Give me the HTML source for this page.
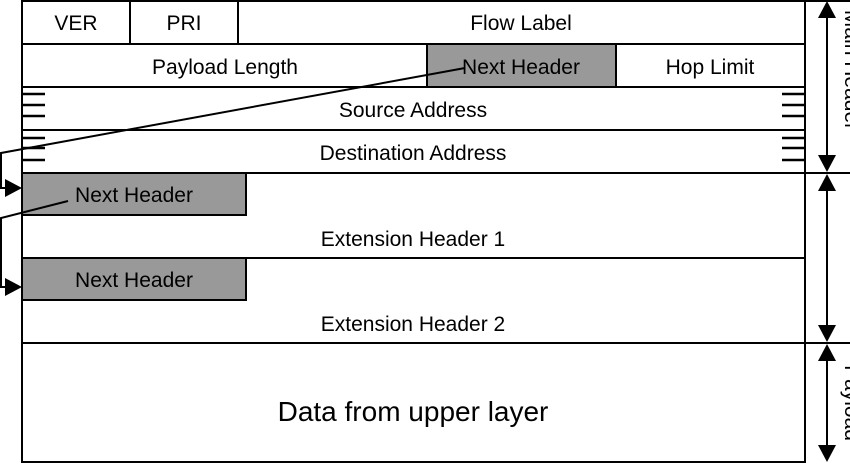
<!DOCTYPE html>
<html><head><style>body{margin:0;background:#fff}svg{display:block}</style></head><body>
<svg width="850" height="464" viewBox="0 0 850 464" xmlns="http://www.w3.org/2000/svg" font-family="Liberation Sans, sans-serif" fill="#000">
<g fill="#999" stroke="#000" stroke-width="2">
<rect x="427" y="44" width="189" height="43"/>
<rect x="22" y="173" width="224" height="42"/>
<rect x="22" y="258" width="224" height="42"/>
</g>
<g stroke="#000" stroke-width="2" fill="none">
<rect x="22" y="1" width="783" height="461"/>
<line x1="22" y1="44" x2="805" y2="44"/>
<line x1="22" y1="87" x2="805" y2="87"/>
<line x1="22" y1="130" x2="805" y2="130"/>
<line x1="22" y1="173" x2="850" y2="173"/>
<line x1="22" y1="258" x2="805" y2="258"/>
<line x1="22" y1="343" x2="850" y2="343"/>
<line x1="805" y1="1" x2="850" y2="1"/>
<line x1="130" y1="1" x2="130" y2="44"/>
<line x1="238" y1="1" x2="238" y2="44"/>
<g stroke-width="2.5">
<line x1="22" y1="94" x2="45" y2="94"/><line x1="22" y1="105" x2="45" y2="105"/><line x1="22" y1="116" x2="45" y2="116"/>
<line x1="22" y1="138" x2="45" y2="138"/><line x1="22" y1="148" x2="45" y2="148"/><line x1="22" y1="160" x2="45" y2="160"/>
<line x1="782" y1="94" x2="805" y2="94"/><line x1="782" y1="105" x2="805" y2="105"/><line x1="782" y1="116" x2="805" y2="116"/>
<line x1="782" y1="138" x2="805" y2="138"/><line x1="782" y1="148" x2="805" y2="148"/><line x1="782" y1="160" x2="805" y2="160"/>
</g>
<polyline points="465,68 1,153 1,188 8,188"/>
<polyline points="68,201 1,218 1,287 8,287"/>
<line x1="827" y1="14" x2="827" y2="160"/>
<line x1="827" y1="186" x2="827" y2="330"/>
<line x1="827" y1="356" x2="827" y2="449"/>
</g>
<g>
<path d="M22,188l-17,-9v18z"/><path d="M22,287l-17,-9v18z"/>
<path d="M827,1l-9,17h18z"/><path d="M827,172l-9,-17h18z"/>
<path d="M827,174l-9,17h18z"/><path d="M827,342l-9,-17h18z"/>
<path d="M827,344l-9,17h18z"/><path d="M827,462l-9,-17h18z"/>
</g>
<g font-size="21" text-anchor="middle">
<text x="76" y="30">VER</text>
<text x="184" y="30">PRI</text>
<text x="521" y="30">Flow Label</text>
<text x="225" y="74">Payload Length</text>
<text x="521" y="74">Next Header</text>
<text x="710" y="74">Hop Limit</text>
<text x="413" y="117">Source Address</text>
<text x="413" y="160">Destination Address</text>
<text x="134" y="202">Next Header</text>
<text x="413" y="246">Extension Header 1</text>
<text x="134" y="287">Next Header</text>
<text x="413" y="331">Extension Header 2</text>
<text x="413" y="421" font-size="28">Data from upper layer</text>
<text transform="translate(845,70) rotate(90)">Main Header</text>
<text transform="translate(845,403) rotate(90)">Payload</text>
</g>
</svg>
</body></html>
